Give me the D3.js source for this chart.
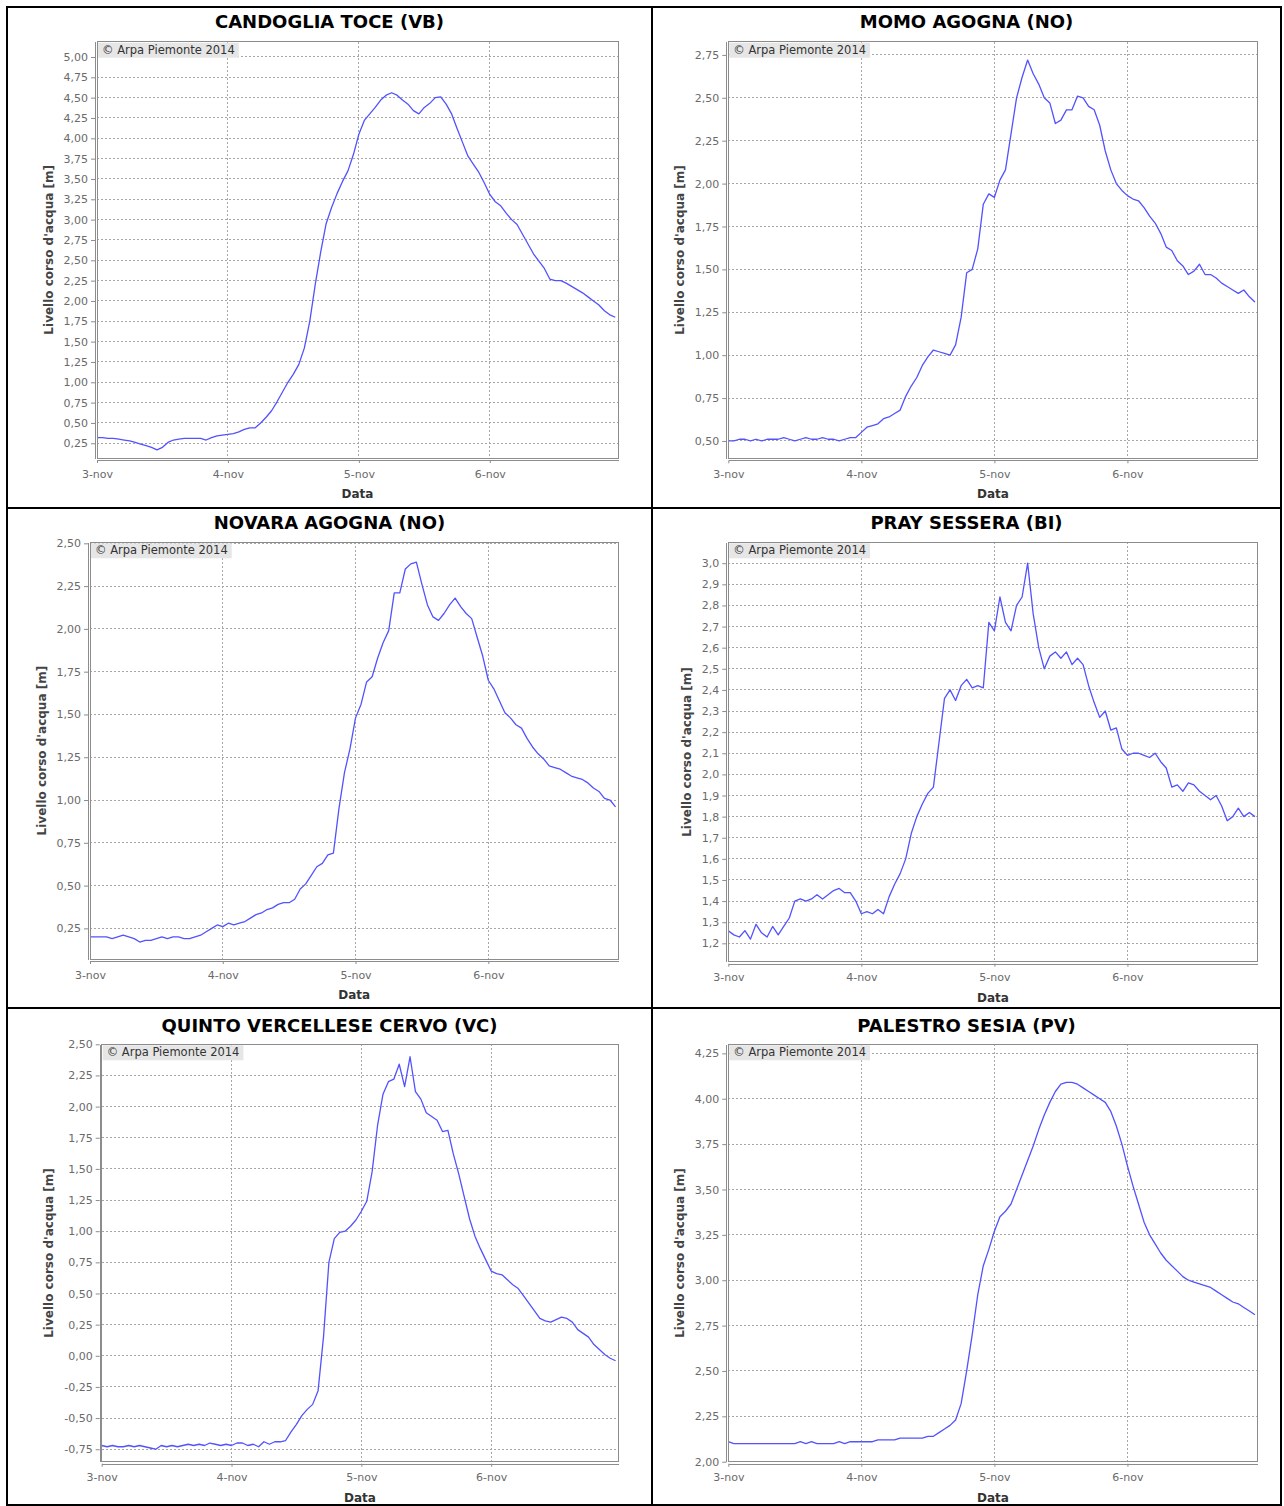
<!DOCTYPE html>
<html>
<head>
<meta charset="utf-8">
<script src="https://cdn.jsdelivr.net/npm/d3@7"></script>
<style>
  html, body { margin: 0; padding: 0; background: #fff; }
  svg { display: block; }
  text { font-family: "DejaVu Sans", Verdana, sans-serif; }
</style>
</head>
<body>
<svg id="chart" width="1284" height="1506"></svg>
<script>
// ---- Data: hourly river levels [m], 3-nov 00:00 .. 6-nov 23:00 ----
const dayLabels = ["3-nov", "4-nov", "5-nov", "6-nov"];
const hours = d3.range(96); // hours since 3-nov 00:00

const candoglia = [
  0.32, 0.32, 0.31, 0.31, 0.30, 0.29, 0.28, 0.26, 0.24, 0.22, 0.20, 0.17,
  0.20, 0.26, 0.29, 0.30, 0.31, 0.31, 0.31, 0.31, 0.29, 0.32, 0.34, 0.35,
  0.36, 0.37, 0.39, 0.42, 0.44, 0.44, 0.50, 0.57, 0.65, 0.76, 0.88, 1.00,
  1.10, 1.22, 1.42, 1.75, 2.20, 2.60, 2.95, 3.15, 3.32, 3.47, 3.60, 3.80,
  4.05, 4.22, 4.30, 4.38, 4.47, 4.53, 4.56, 4.53, 4.47, 4.42, 4.34, 4.30,
  4.38, 4.43, 4.50, 4.51, 4.42, 4.30, 4.12, 3.95, 3.78, 3.68, 3.58, 3.45,
  3.31, 3.22, 3.17, 3.08, 3.00, 2.94, 2.82, 2.70, 2.58, 2.49, 2.40, 2.27,
  2.25, 2.25, 2.22, 2.18, 2.14, 2.10, 2.05, 2.00, 1.95, 1.88, 1.83, 1.80
];
const momo = [
  0.50, 0.50, 0.51, 0.51, 0.50, 0.51, 0.50, 0.51, 0.51, 0.51, 0.52, 0.51,
  0.50, 0.51, 0.52, 0.51, 0.51, 0.52, 0.51, 0.51, 0.50, 0.51, 0.52, 0.52,
  0.55, 0.58, 0.59, 0.60, 0.63, 0.64, 0.66, 0.68, 0.76, 0.82, 0.87, 0.94,
  0.99, 1.03, 1.02, 1.01, 1.00, 1.06, 1.22, 1.48, 1.50, 1.62, 1.88, 1.94,
  1.92, 2.02, 2.08, 2.29, 2.50, 2.62, 2.72, 2.64, 2.58, 2.50, 2.47, 2.35,
  2.37, 2.43, 2.43, 2.51, 2.50, 2.45, 2.43, 2.34, 2.19, 2.08, 2.00, 1.96,
  1.93, 1.91, 1.90, 1.86, 1.81, 1.77, 1.71, 1.63, 1.61, 1.55, 1.52, 1.47,
  1.49, 1.53, 1.47, 1.47, 1.45, 1.42, 1.40, 1.38, 1.36, 1.38, 1.34, 1.31
];
const novara = [
  0.20, 0.20, 0.20, 0.20, 0.19, 0.20, 0.21, 0.20, 0.19, 0.17, 0.18, 0.18,
  0.19, 0.20, 0.19, 0.20, 0.20, 0.19, 0.19, 0.20, 0.21, 0.23, 0.25, 0.27,
  0.26, 0.28, 0.27, 0.28, 0.29, 0.31, 0.33, 0.34, 0.36, 0.37, 0.39, 0.40,
  0.40, 0.42, 0.48, 0.51, 0.56, 0.61, 0.63, 0.68, 0.69, 0.95, 1.16, 1.30,
  1.48, 1.56, 1.69, 1.72, 1.83, 1.92, 1.99, 2.21, 2.21, 2.35, 2.38, 2.39,
  2.26, 2.14, 2.07, 2.05, 2.09, 2.14, 2.18, 2.13, 2.09, 2.06, 1.95, 1.84,
  1.70, 1.65, 1.58, 1.51, 1.48, 1.44, 1.42, 1.36, 1.31, 1.27, 1.24, 1.20,
  1.19, 1.18, 1.16, 1.14, 1.13, 1.12, 1.10, 1.07, 1.05, 1.01, 1.00, 0.96
];
const pray = [
  1.26, 1.24, 1.23, 1.26, 1.22, 1.29, 1.25, 1.23, 1.28, 1.24, 1.28, 1.32,
  1.40, 1.41, 1.40, 1.41, 1.43, 1.41, 1.43, 1.45, 1.46, 1.44, 1.44, 1.40,
  1.34, 1.35, 1.34, 1.36, 1.34, 1.42, 1.48, 1.53, 1.60, 1.72, 1.80, 1.86,
  1.91, 1.94, 2.15, 2.36, 2.40, 2.35, 2.42, 2.45, 2.41, 2.42, 2.41, 2.72,
  2.68, 2.84, 2.72, 2.68, 2.80, 2.84, 3.00, 2.76, 2.60, 2.50, 2.56, 2.58,
  2.55, 2.58, 2.52, 2.55, 2.52, 2.42, 2.34, 2.27, 2.30, 2.21, 2.22, 2.12,
  2.09, 2.10, 2.10, 2.09, 2.08, 2.10, 2.06, 2.03, 1.94, 1.95, 1.92, 1.96,
  1.95, 1.92, 1.90, 1.88, 1.90, 1.85, 1.78, 1.80, 1.84, 1.80, 1.82, 1.80
];
const quinto = [
  -0.72, -0.73, -0.72, -0.73, -0.73, -0.72, -0.73, -0.72, -0.73, -0.74, -0.75, -0.72,
  -0.73, -0.72, -0.73, -0.72, -0.71, -0.72, -0.71, -0.72, -0.70, -0.71, -0.72, -0.71,
  -0.72, -0.70, -0.70, -0.72, -0.71, -0.73, -0.69, -0.71, -0.69, -0.69, -0.68, -0.61,
  -0.55, -0.48, -0.43, -0.39, -0.28, 0.15, 0.75, 0.94, 0.99, 1.00, 1.04, 1.09,
  1.16, 1.24, 1.48, 1.85, 2.10, 2.20, 2.22, 2.34, 2.16, 2.40, 2.12, 2.06,
  1.95, 1.92, 1.89, 1.80, 1.81, 1.62, 1.46, 1.28, 1.10, 0.96, 0.86, 0.77,
  0.68, 0.66, 0.65, 0.61, 0.57, 0.54, 0.48, 0.42, 0.36, 0.30, 0.28, 0.27,
  0.29, 0.31, 0.30, 0.27, 0.21, 0.18, 0.15, 0.09, 0.05, 0.01, -0.02, -0.04
];
const palestro = [
  2.11, 2.10, 2.10, 2.10, 2.10, 2.10, 2.10, 2.10, 2.10, 2.10, 2.10, 2.10,
  2.10, 2.11, 2.10, 2.11, 2.10, 2.10, 2.10, 2.10, 2.11, 2.10, 2.11, 2.11,
  2.11, 2.11, 2.11, 2.12, 2.12, 2.12, 2.12, 2.13, 2.13, 2.13, 2.13, 2.13,
  2.14, 2.14, 2.16, 2.18, 2.20, 2.23, 2.32, 2.50, 2.70, 2.92, 3.08, 3.17,
  3.27, 3.35, 3.38, 3.42, 3.50, 3.58, 3.66, 3.74, 3.83, 3.91, 3.98, 4.04,
  4.08, 4.09, 4.09, 4.08, 4.06, 4.04, 4.02, 4.00, 3.98, 3.93, 3.85, 3.75,
  3.63, 3.52, 3.42, 3.32, 3.25, 3.20, 3.15, 3.11, 3.08, 3.05, 3.02, 3.00,
  2.99, 2.98, 2.97, 2.96, 2.94, 2.92, 2.90, 2.88, 2.87, 2.85, 2.83, 2.81
];

// ---- Y tick values per station ----
const candogliaTicks = [0.25, 0.50, 0.75, 1.00, 1.25, 1.50, 1.75, 2.00, 2.25, 2.50,
                        2.75, 3.00, 3.25, 3.50, 3.75, 4.00, 4.25, 4.50, 4.75, 5.00];
const momoTicks = [0.50, 0.75, 1.00, 1.25, 1.50, 1.75, 2.00, 2.25, 2.50, 2.75];
const novaraTicks = [0.25, 0.50, 0.75, 1.00, 1.25, 1.50, 1.75, 2.00, 2.25, 2.50];
const prayTicks = [1.2, 1.3, 1.4, 1.5, 1.6, 1.7, 1.8, 1.9, 2.0, 2.1,
                   2.2, 2.3, 2.4, 2.5, 2.6, 2.7, 2.8, 2.9, 3.0];
const quintoTicks = [-0.75, -0.50, -0.25, 0.00, 0.25, 0.50, 0.75, 1.00, 1.25,
                     1.50, 1.75, 2.00, 2.25, 2.50];
const palestroTicks = [2.00, 2.25, 2.50, 2.75, 3.00, 3.25, 3.50, 3.75, 4.00, 4.25];

const stationNames = [
  "CANDOGLIA TOCE (VB)", "MOMO AGOGNA (NO)",
  "NOVARA AGOGNA (NO)", "PRAY SESSERA (BI)",
  "QUINTO VERCELLESE CERVO (VC)", "PALESTRO SESIA (PV)"
];
const copyrightText = "\u00A9 Arpa Piemonte 2014";
const yAxisTitle = "Livello corso d'acqua [m]";
const xAxisTitle = "Data";

// ---- Layout of the 2x3 grid ----
const colEdges = [7, 652, 1281];
const rowEdges = [7, 508, 1008, 1505];
const titleBaselines = [27.5, 529, 1031.5];

const panels = [
  { name: stationNames[0], values: candoglia, ticks: candogliaTicks, dec: 2,
    box: [97, 41.7, 618, 458], domain: [0.069, 5.188], col: 0, row: 0 },
  { name: stationNames[1], values: momo, ticks: momoTicks, dec: 2,
    box: [728.3, 41.7, 1257.7, 458.3], domain: [0.399, 2.827], col: 1, row: 0 },
  { name: stationNames[2], values: novara, ticks: novaraTicks, dec: 2,
    box: [90, 542.3, 618.3, 959], domain: [0.071, 2.506], col: 0, row: 1 },
  { name: stationNames[3], values: pray, ticks: prayTicks, dec: 1,
    box: [728.3, 542.3, 1257.7, 961.7], domain: [1.113, 3.099], col: 1, row: 1 },
  { name: stationNames[4], values: quinto, ticks: quintoTicks, dec: 2,
    box: [101.7, 1044.3, 618.3, 1461.7], domain: [-0.85, 2.50], col: 0, row: 2 },
  { name: stationNames[5], values: palestro, ticks: palestroTicks, dec: 2,
    box: [728.3, 1044.3, 1257.7, 1461.7], domain: [2.0, 4.30], col: 1, row: 2 }
];

const t0 = new Date(2014, 10, 3, 0, 0);
const hourMs = 3600 * 1000;
const tEnd = new Date(t0.getTime() + 95.5 * hourMs);
const dayTicks = dayLabels.map((_, i) => new Date(t0.getTime() + i * 24 * hourMs));

const svg = d3.select("#chart");
svg.append("rect").attr("width", 1284).attr("height", 1506).attr("fill", "#fff");

const lineColor = "#5252ff";
const gridColor = "#a6a6a6";
const tickTextColor = "#6a6a6a";

function drawPanel(p) {
  const [left, top, right, bottom] = p.box;
  const g = svg.append("g");
  const cx = (colEdges[p.col] + colEdges[p.col + 1]) / 2;

  // station title
  g.append("text")
    .attr("x", cx).attr("y", titleBaselines[p.row])
    .attr("text-anchor", "middle")
    .attr("font-size", 18).attr("font-weight", "bold").attr("fill", "#000")
    .text(p.name);

  const x = d3.scaleTime().domain([t0, tEnd]).range([left, right]);
  const y = d3.scaleLinear().domain(p.domain).range([bottom, top]);

  // plot background
  g.append("rect").attr("x", left).attr("y", top)
    .attr("width", right - left).attr("height", bottom - top).attr("fill", "#fff");

  // gridlines
  const grid = g.append("g").attr("stroke", gridColor).attr("stroke-width", 1)
    .attr("stroke-dasharray", "2,2").attr("shape-rendering", "crispEdges");
  p.ticks.forEach(v => {
    grid.append("line").attr("x1", left).attr("x2", right)
      .attr("y1", y(v)).attr("y2", y(v));
  });
  dayTicks.forEach(d => {
    grid.append("line").attr("x1", x(d)).attr("x2", x(d))
      .attr("y1", top).attr("y2", bottom);
  });

  // copyright label box
  const cr = g.append("g");
  const crRect = cr.append("rect").attr("x", left + 1).attr("y", top + 1)
    .attr("height", 15).attr("fill", "#e6e6e6");
  const crText = cr.append("text")
    .attr("x", left + 5).attr("y", top + 12)
    .attr("font-size", 11.5).attr("fill", "#333")
    .text(copyrightText);
  crRect.attr("width", crText.node().getComputedTextLength() + 8);

  // level series
  const series = hours.map((h, i) => ({ t: new Date(t0.getTime() + h * hourMs), v: p.values[i] }));
  g.append("path")
    .datum(series)
    .attr("fill", "none")
    .attr("stroke", lineColor)
    .attr("stroke-width", 1.3)
    .attr("stroke-linejoin", "round")
    .attr("d", d3.line().x(d => x(d.t)).y(d => y(d.v)));

  // plot outline
  g.append("rect").attr("x", left).attr("y", top)
    .attr("width", right - left).attr("height", bottom - top)
    .attr("fill", "none").attr("stroke", "#8c8c8c").attr("stroke-width", 1)
    .attr("shape-rendering", "crispEdges");

  // y axis
  const fmt = v => v.toFixed(p.dec).replace(".", ",");
  const yAxis = g.append("g")
    .attr("transform", `translate(${left - 2},0)`)
    .call(d3.axisLeft(y).tickValues(p.ticks).tickFormat(fmt)
      .tickSize(4).tickSizeOuter(0).tickPadding(3));
  yAxis.selectAll("path.domain").attr("stroke", "#8c8c8c").attr("shape-rendering", "crispEdges");
  yAxis.selectAll(".tick line").attr("stroke", "#8c8c8c");
  yAxis.selectAll(".tick text")
    .attr("font-family", "DejaVu Sans, sans-serif")
    .attr("font-size", 11).attr("fill", tickTextColor);

  // x axis
  const xAxis = g.append("g")
    .attr("transform", `translate(0,${bottom + 2})`)
    .call(d3.axisBottom(x).tickValues(dayTicks).tickFormat((d, i) => dayLabels[i])
      .tickSize(3).tickSizeOuter(0).tickPadding(7));
  xAxis.selectAll("path.domain").attr("stroke", "#8c8c8c").attr("shape-rendering", "crispEdges");
  xAxis.selectAll(".tick line").attr("stroke", "#8c8c8c");
  xAxis.selectAll(".tick text")
    .attr("font-family", "DejaVu Sans, sans-serif")
    .attr("font-size", 11).attr("fill", tickTextColor);

  // axis titles
  let maxW = 0;
  yAxis.selectAll(".tick text").each(function () {
    maxW = Math.max(maxW, this.getComputedTextLength());
  });
  const yLabelX = left - 9 - maxW - 15;
  g.append("text")
    .attr("transform", `translate(${yLabelX},${(top + bottom) / 2}) rotate(-90)`)
    .attr("text-anchor", "middle").attr("dominant-baseline", "central")
    .attr("font-size", 12).attr("font-weight", "bold").attr("fill", "#444")
    .text(yAxisTitle);

  g.append("text")
    .attr("x", (left + right) / 2).attr("y", bottom + 40)
    .attr("text-anchor", "middle")
    .attr("font-size", 12).attr("font-weight", "bold").attr("fill", "#333")
    .text(xAxisTitle);
}

panels.forEach(drawPanel);

// grid frame around the six panels
const frame = svg.append("g").attr("stroke", "#000").attr("stroke-width", 2).attr("fill", "none");
frame.append("rect")
  .attr("x", colEdges[0]).attr("y", rowEdges[0])
  .attr("width", colEdges[2] - colEdges[0]).attr("height", rowEdges[3] - rowEdges[0]);
frame.append("line").attr("x1", colEdges[1]).attr("x2", colEdges[1])
  .attr("y1", rowEdges[0]).attr("y2", rowEdges[3]);
[rowEdges[1], rowEdges[2]].forEach(yy => {
  frame.append("line").attr("x1", colEdges[0]).attr("x2", colEdges[2])
    .attr("y1", yy).attr("y2", yy);
});
</script>
</body>
</html>
